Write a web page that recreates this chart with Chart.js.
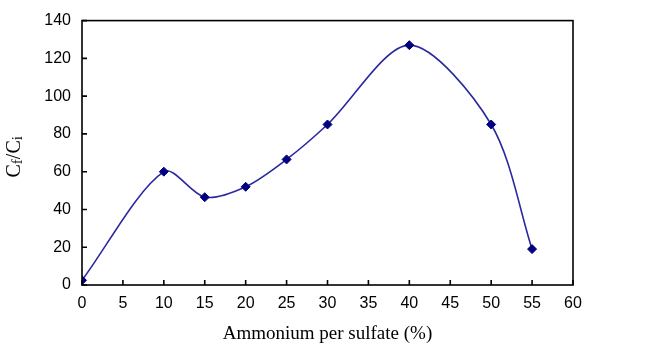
<!DOCTYPE html>
<html>
<head>
<meta charset="utf-8">
<script src="https://cdn.jsdelivr.net/npm/chart.js@4/dist/chart.umd.min.js"></script>
<style>
  html, body { margin: 0; padding: 0; background: #fff; }
  #wrap { width: 652px; height: 345px; }
</style>
</head>
<body>
<div id="wrap"><canvas id="chart"></canvas></div>
<script>
// data
const sulfatePercent = [0, 10, 15, 20, 25, 30, 40, 50, 55];
const cfCiRatio = [2.5, 60, 46.5, 52, 66.5, 85, 127, 85, 19];
const xTicks = [0, 5, 10, 15, 20, 25, 30, 35, 40, 45, 50, 55, 60];
const yTicks = [0, 20, 40, 60, 80, 100, 120, 140];

const tickFont = { family: 'Liberation Sans, Arial, sans-serif', size: 16 };

// frame + inward tick marks + y title with subscripts
const framePlugin = {
  id: 'frame',
  afterDraw(chart) {
    const { ctx, chartArea: a, scales } = chart;
    ctx.save();
    ctx.strokeStyle = '#000';
    ctx.lineWidth = 1.6;
    ctx.strokeRect(a.left, a.top, a.right - a.left, a.bottom - a.top);
    ctx.beginPath();
    xTicks.forEach(v => {
      const px = scales.x.getPixelForValue(v);
      ctx.moveTo(px, a.bottom);
      ctx.lineTo(px, a.bottom - 5);
    });
    yTicks.forEach(v => {
      const py = scales.y.getPixelForValue(v);
      ctx.moveTo(a.left, py);
      ctx.lineTo(a.left + 5, py);
    });
    ctx.stroke();

    // y axis title "Cf/Ci"
    ctx.translate(15, (a.top + a.bottom) / 2 + 4);
    ctx.rotate(-Math.PI / 2);
    ctx.fillStyle = '#000';
    ctx.textBaseline = 'middle';
    const big = '20px "Liberation Serif", "Times New Roman", serif';
    const small = '15px "Liberation Serif", "Times New Roman", serif';
    const parts = [['C', big, 0], ['f', small, 3], ['/C', big, 0], ['i', small, 3]];
    let total = 0;
    parts.forEach(p => { ctx.font = p[1]; total += ctx.measureText(p[0]).width; });
    let x = -total / 2;
    parts.forEach(p => {
      ctx.font = p[1];
      ctx.fillText(p[0], x, p[2]);
      x += ctx.measureText(p[0]).width;
    });
    ctx.restore();
  }
};

new Chart(document.getElementById('chart'), {
  type: 'scatter',
  data: {
    datasets: [{
      data: sulfatePercent.map((x, i) => ({ x, y: cfCiRatio[i] })),
      showLine: true,
      tension: 0.3,
      borderColor: '#2a2aa0',
      borderWidth: 1.6,
      pointStyle: 'rectRot',
      pointRadius: 4.5,
      pointBackgroundColor: '#000080',
      pointBorderColor: '#000080',
      pointBorderWidth: 1
    }]
  },
  options: {
    responsive: true,
    maintainAspectRatio: false,
    animation: false,
    layout: { padding: { left: 0, right: 79, top: 20, bottom: 0 } },
    plugins: { legend: { display: false }, tooltip: { enabled: false } },
    scales: {
      x: {
        type: 'linear',
        min: 0,
        max: 60,
        afterBuildTicks: s => { s.ticks = xTicks.map(v => ({ value: v })); },
        afterFit: s => { s.height = 60; },
        grid: { display: false, drawTicks: false },
        border: { display: false },
        ticks: { color: '#000', font: tickFont, padding: 9, maxRotation: 0, autoSkip: false },
        title: {
          display: true,
          text: 'Ammonium per sulfate (%)',
          color: '#000',
          font: { family: 'Liberation Serif, Times New Roman, serif', size: 19 },
          padding: { top: 0, bottom: 0 }
        }
      },
      y: {
        min: 0,
        max: 140,
        afterBuildTicks: s => { s.ticks = yTicks.map(v => ({ value: v })); },
        afterFit: s => { s.width = 82; },
        grid: { display: false, drawTicks: false },
        border: { display: false },
        ticks: { color: '#000', font: tickFont, padding: 11 }
      }
    }
  },
  plugins: [framePlugin]
});
</script>
</body>
</html>
